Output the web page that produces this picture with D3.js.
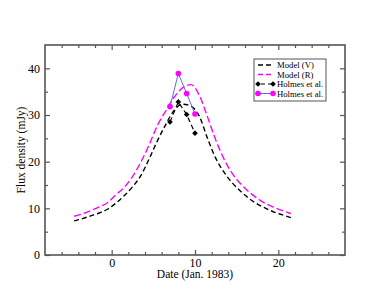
<!DOCTYPE html>
<html>
<head>
<meta charset="utf-8">
<script src="https://cdn.jsdelivr.net/npm/d3@7"></script>
<style>
  html, body { margin: 0; padding: 0; background: #fff; }
  svg { display: block; }
  text { font-family: "Liberation Serif", "Times New Roman", serif; fill: #000; }
</style>
</head>
<body>
<svg id="chart" width="388" height="300"></svg>
<script>
// ---- data ----
const modelX = [-4.5,-3.5,-2.5,-1.5,-0.5,0.5,1.5,2.5,3.5,4.5,5.5,6.5,7.5,8.5,9.5,10.5,11.5,12.5,13.5,14.5,15.5,16.5,17.5,18.5,19.5,20.5,21.5];
const modelV = [7.3,7.8,8.4,9.0,9.8,11.1,12.7,14.6,17.0,20.6,24.5,28.0,31.0,32.3,31.9,29.8,25.0,20.7,17.7,15.4,13.6,12.1,10.9,10.0,9.2,8.6,8.0];
const modelR = [8.3,8.8,9.5,10.3,11.2,12.9,14.5,16.8,19.9,23.6,27.8,30.9,33.8,35.8,36.5,34.3,29.6,24.6,20.5,17.4,15.2,13.5,12.1,11.0,10.2,9.5,8.9];
const holmesX = [7,8,9,10];
const holmesV = [28.5,32.8,30.1,26.1];
const holmesR = [31.8,38.9,34.6,30.2];
const xMajor = [0,10,20];
const xMinor = [-6,-4,-2,2,4,6,8,12,14,16,18,22,24,26];
const yMajor = [0,10,20,30,40];
const yMinor = [5,15,25,35];
const legendLabels = ["Model (V)","Model (R)","Holmes et al.","Holmes et al."];

// ---- layout ----
const svg = d3.select("#chart");
const L = 45, R = 345, T = 45, B = 255;
const x = d3.scaleLinear().domain([-8,28]).range([L,R]);
const y = d3.scaleLinear().domain([0,45]).range([B,T]);
const frameColor = "#555";

function styleAxis(g){
  g.select(".domain").remove();
  g.selectAll(".tick line").attr("stroke", frameColor).attr("stroke-width", 1.2);
  g.selectAll(".tick text").style("font-family","'Liberation Serif', 'Times New Roman', serif").style("font-size","12px").attr("fill","#000");
}

// bottom
svg.append("g").attr("transform",`translate(0,${B})`)
  .call(d3.axisBottom(x).tickValues(xMajor).tickSize(-5).tickPadding(3).tickFormat(d3.format("d"))).call(styleAxis);
svg.append("g").attr("transform",`translate(0,${B})`)
  .call(d3.axisBottom(x).tickValues(xMinor).tickSize(-3).tickFormat("")).call(styleAxis);
// top
svg.append("g").attr("transform",`translate(0,${T})`)
  .call(d3.axisTop(x).tickValues(xMajor).tickSize(-5).tickFormat("")).call(styleAxis);
svg.append("g").attr("transform",`translate(0,${T})`)
  .call(d3.axisTop(x).tickValues(xMinor).tickSize(-3).tickFormat("")).call(styleAxis);
// left
svg.append("g").attr("transform",`translate(${L},0)`)
  .call(d3.axisLeft(y).tickValues(yMajor).tickSize(-5).tickPadding(5).tickFormat(d3.format("d"))).call(styleAxis);
svg.append("g").attr("transform",`translate(${L},0)`)
  .call(d3.axisLeft(y).tickValues(yMinor).tickSize(-3).tickFormat("")).call(styleAxis);
// right
svg.append("g").attr("transform",`translate(${R},0)`)
  .call(d3.axisRight(y).tickValues(yMajor).tickSize(-5).tickFormat("")).call(styleAxis);
svg.append("g").attr("transform",`translate(${R},0)`)
  .call(d3.axisRight(y).tickValues(yMinor).tickSize(-3).tickFormat("")).call(styleAxis);

// frame
svg.append("rect").attr("x",L).attr("y",T).attr("width",R-L).attr("height",B-T)
  .attr("fill","none").attr("stroke",frameColor).attr("stroke-width",1.6);

// axis titles
svg.append("text").attr("x",(L+R)/2).attr("y",278).attr("text-anchor","middle")
  .style("font-size","11.5px").text("Date (Jan. 1983)");
svg.append("text").attr("transform",`translate(25,${(T+B)/2}) rotate(-90)`).attr("text-anchor","middle")
  .style("font-size","11.5px").text("Flux density (mJy)");

// lines
const line = d3.line().x(d=>x(d[0])).y(d=>y(d[1])).curve(d3.curveMonotoneX);
const lineStraight = d3.line().x(d=>x(d[0])).y(d=>y(d[1]));

svg.append("path").datum(modelX.map((v,i)=>[v,modelV[i]])).attr("d",line)
  .attr("fill","none").attr("stroke","#000").attr("stroke-width",1.4).attr("stroke-dasharray","5,3");
svg.append("path").datum(modelX.map((v,i)=>[v,modelR[i]])).attr("d",line)
  .attr("fill","none").attr("stroke","#ff00ff").attr("stroke-width",1.4).attr("stroke-dasharray","7,3");

svg.append("path").datum(holmesX.map((v,i)=>[v,holmesV[i]])).attr("d",lineStraight)
  .attr("fill","none").attr("stroke","#000").attr("stroke-width",1.2).attr("stroke-dasharray","5,3");
svg.append("path").datum(holmesX.map((v,i)=>[v,holmesR[i]])).attr("d",lineStraight)
  .attr("fill","none").attr("stroke","#5b6cf0").attr("stroke-width",1);

const diamond = d3.symbol().type(d3.symbolSquare).size(16);
svg.append("g").selectAll("path").data(holmesX.map((v,i)=>[v,holmesV[i]])).join("path")
  .attr("d",diamond).attr("transform",d=>`translate(${x(d[0])},${y(d[1])}) rotate(45)`).attr("fill","#000");
svg.append("g").selectAll("circle").data(holmesX.map((v,i)=>[v,holmesR[i]])).join("circle")
  .attr("cx",d=>x(d[0])).attr("cy",d=>y(d[1])).attr("r",2.8).attr("fill","#ff00ff");

// legend
const lg = svg.append("g");
lg.append("rect").attr("x",254).attr("y",59).attr("width",72).attr("height",42)
  .attr("fill","#fff").attr("stroke","#555").attr("stroke-width",1);
const rowsY = [65,74.5,84,93.5];
const lx0 = 258, lx1 = 273;
lg.append("line").attr("x1",lx0).attr("x2",lx1).attr("y1",rowsY[0]).attr("y2",rowsY[0])
  .attr("stroke","#000").attr("stroke-width",1.4).attr("stroke-dasharray","5,3");
lg.append("line").attr("x1",lx0).attr("x2",lx1).attr("y1",rowsY[1]).attr("y2",rowsY[1])
  .attr("stroke","#ff00ff").attr("stroke-width",1.4).attr("stroke-dasharray","5,3");
lg.append("line").attr("x1",lx0).attr("x2",lx1).attr("y1",rowsY[2]).attr("y2",rowsY[2])
  .attr("stroke","#000").attr("stroke-width",1.2).attr("stroke-dasharray","4,3").attr("stroke-dashoffset",-3);
[lx0,lx1].forEach(px=>lg.append("path").attr("d",diamond).attr("transform",`translate(${px},${rowsY[2]}) rotate(45)`).attr("fill","#000"));
lg.append("line").attr("x1",lx0).attr("x2",lx1).attr("y1",rowsY[3]).attr("y2",rowsY[3])
  .attr("stroke","#5b6cf0").attr("stroke-width",1);
[lx0,lx1].forEach(px=>lg.append("circle").attr("cx",px).attr("cy",rowsY[3]).attr("r",2.8).attr("fill","#ff00ff"));
legendLabels.forEach((t,i)=>{
  lg.append("text").attr("x",277).attr("y",rowsY[i]+3).style("font-size","8.7px").text(t);
});
</script>
</body>
</html>
